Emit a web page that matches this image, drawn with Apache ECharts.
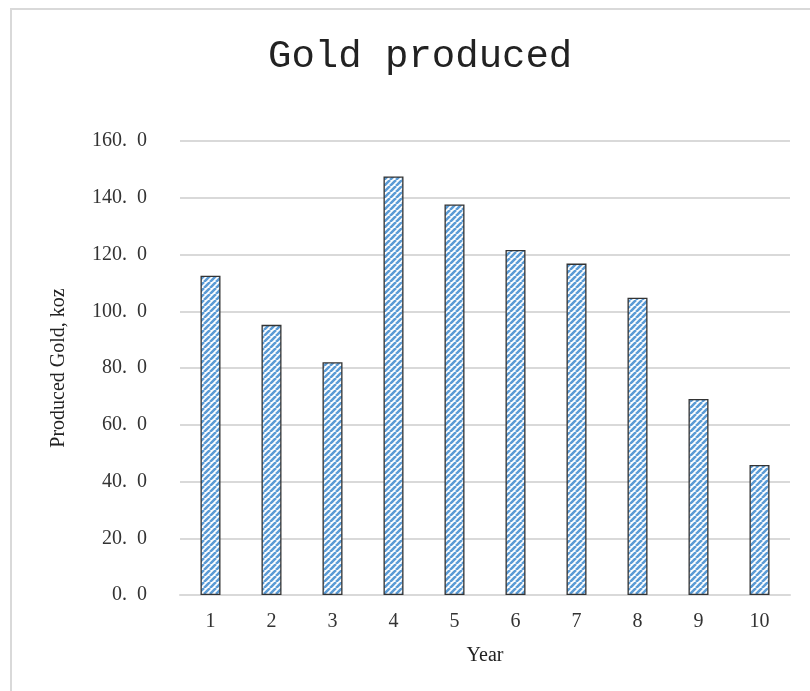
<!DOCTYPE html>
<html>
<head>
<meta charset="utf-8">
<script src="https://cdn.jsdelivr.net/npm/echarts@6/dist/echarts.min.js"></script>
<style>
  html, body { margin: 0; padding: 0; background: #fff; }
  #chart { width: 810px; height: 691px; }
</style>
</head>
<body>
<div id="chart"></div>
<script>
// Annual gold production by year
const years = ['1', '2', '3', '4', '5', '6', '7', '8', '9', '10'];
const goldKoz = [112.5, 95.2, 82.0, 147.5, 137.6, 121.6, 116.8, 104.8, 69.1, 45.8];
const yTicks = [0, 20, 40, 60, 80, 100, 120, 140, 160];

// Diagonal "/" hatch fill for the bars
function hatch() {
  const s = 6;
  const c = document.createElement('canvas');
  c.width = s; c.height = s;
  const g = c.getContext('2d');
  g.fillStyle = '#ffffff';
  g.fillRect(0, 0, s, s);
  g.strokeStyle = '#5b9bd5';
  g.lineWidth = 2.6;
  g.beginPath();
  for (let k = -2 * s; k <= 2 * s; k += s) {
    g.moveTo(k, s);
    g.lineTo(k + s, 0);
  }
  g.stroke();
  return c;
}

const chart = echarts.init(document.getElementById('chart'), null, { renderer: 'canvas' });
const serif = '"Liberation Serif", "DejaVu Serif", serif';

chart.setOption({
  animation: false,
  backgroundColor: '#ffffff',
  graphic: [{
    type: 'rect',
    shape: { x: 11, y: 9, width: 840, height: 720 },
    style: { fill: 'none', stroke: '#d9d9d9', lineWidth: 2 },
    silent: true
  }],
  title: {
    text: 'Gold produced',
    left: 263,
    top: 32,
    textStyle: {
      fontFamily: '"Liberation Mono", "DejaVu Sans Mono", monospace',
      fontSize: 39,
      fontWeight: 'normal',
      color: '#222'
    }
  },
  grid: { left: 180, right: 20, top: 141, bottom: 96, containLabel: false },
  xAxis: {
    type: 'category',
    data: years,
    name: 'Year',
    nameLocation: 'middle',
    nameGap: 51,
    nameTextStyle: { fontFamily: serif, fontSize: 20, color: '#222' },
    axisLine: { show: true, lineStyle: { color: '#d9d9d9', width: 2 } },
    axisTick: { show: false },
    axisLabel: { fontFamily: serif, fontSize: 20, color: '#333', margin: 17 }
  },
  yAxis: {
    type: 'value',
    min: 0,
    max: yTicks[yTicks.length - 1],
    interval: yTicks[1] - yTicks[0],
    name: 'Produced Gold, koz',
    nameLocation: 'middle',
    nameGap: 111,
    nameTextStyle: { fontFamily: serif, fontSize: 20, color: '#222' },
    axisLine: { show: false },
    axisTick: { show: false },
    splitLine: { lineStyle: { color: '#d9d9d9', width: 2 } },
    axisLabel: {
      fontFamily: serif,
      fontSize: 20,
      color: '#333',
      margin: 33,
      formatter: v => v.toFixed(1).replace('.', '.  ')
    }
  },
  series: [{
    type: 'bar',
    data: goldKoz,
    barWidth: 20,
    itemStyle: {
      color: { image: hatch(), repeat: 'repeat' },
      borderColor: '#333',
      borderWidth: 1.3
    }
  }]
});
</script>
</body>
</html>
